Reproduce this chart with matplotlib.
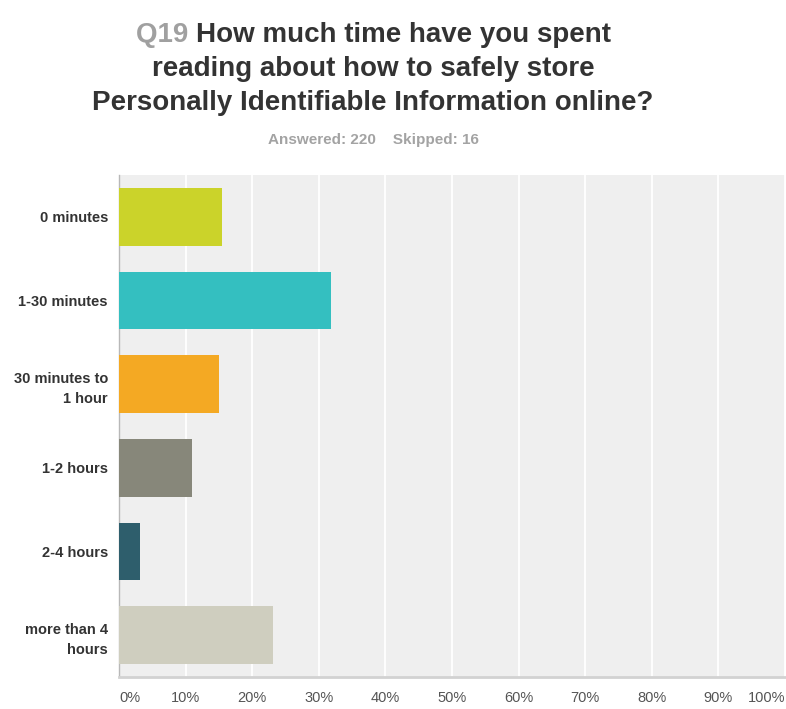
import matplotlib.pyplot as plt

plt.rcParams['font.family'] = ['Liberation Sans', 'DejaVu Sans']

# Survey answers (percent of 220 respondents)
categories = ["0 minutes", "1-30 minutes", "30 minutes to\n1 hour", "1-2 hours",
              "2-4 hours", "more than 4\nhours"]
percents = [15.45, 31.82, 15.00, 10.91, 3.18, 23.18]
colors = ["#cbd32a", "#34bfc0", "#f4a923", "#87877a", "#2e5e6c", "#cfcebf"]
ticks = list(range(0, 101, 10))
tick_labels = [f"{t}%" for t in ticks]

question_no = "Q19"
title_lines = ["How much time have you spent",
               "reading about how to safely store",
               "Personally Identifiable Information online?"]
subtitle = "Answered: 220    Skipped: 16"

fig = plt.figure(figsize=(7.86, 7.09), dpi=100)
ax = fig.add_axes([0.1514, 0.0451, 0.8473, 0.7081])
ax.set_facecolor("#efefef")

ypos = list(range(len(categories)))
ax.barh(ypos, percents, height=0.69, color=colors, zorder=3)
ax.set_ylim(len(categories) - 0.5, -0.5)
ax.set_xlim(0, 100)

ax.set_yticks(ypos)
ax.set_yticklabels(categories, fontsize=10.5, fontweight='bold', color='#333333',
                   linespacing=1.55)
ax.set_xticks(ticks)
ax.set_xticklabels(tick_labels, fontsize=10.5, color='#555555')
xl = ax.get_xticklabels()
xl[0].set_ha('left')
xl[-1].set_ha('right')
ax.tick_params(axis='y', length=0, pad=8)
ax.tick_params(axis='x', length=0, pad=10)

ax.grid(axis='x', color='white', linewidth=1.3, zorder=1)
for s in ['top', 'right']:
    ax.spines[s].set_visible(False)
ax.spines['left'].set_color('#b8b8b8')
ax.spines['left'].set_linewidth(1.0)
ax.spines['bottom'].set_color('#d2d2d2')
ax.spines['bottom'].set_linewidth(2.0)

# title: question number in grey, first line split in two pieces
cx = 373 / 786
fig.canvas.draw()
r = fig.canvas.get_renderer()
tkw = dict(fontsize=20, fontweight='bold', va='baseline')
t_q = fig.text(0, 0, question_no + " ", color='#a0a0a0', **tkw)
t_rest = fig.text(0, 0, title_lines[0], color='#333333', **tkw)
wq = t_q.get_window_extent(r).width / fig.bbox.width
wr = t_rest.get_window_extent(r).width / fig.bbox.width
x0 = cx - (wq + wr) / 2
y1 = 1 - 42 / 709
t_q.set_position((x0, y1))
t_rest.set_position((x0 + wq, y1))
fig.text(cx, 1 - 76 / 709, title_lines[1], color='#333333', ha='center', **tkw)
fig.text(cx, 1 - 110 / 709, title_lines[2], color='#333333', ha='center', **tkw)

fig.text(cx, 1 - 144 / 709, subtitle, fontsize=11, fontweight='bold',
         color='#a3a3a3', ha='center', va='baseline')

fig.savefig("out.png", dpi=100, facecolor='white')
